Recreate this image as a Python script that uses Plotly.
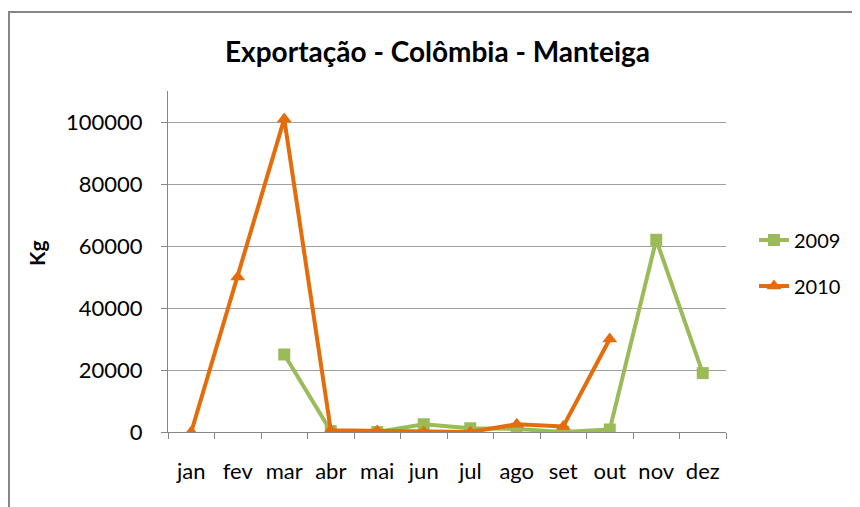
import plotly.graph_objects as go

months = ["jan", "fev", "mar", "abr", "mai", "jun", "jul", "ago", "set", "out", "nov", "dez"]
v2009 = [None, None, 25000, 300, 0, 2500, 1200, 1000, 0, 800, 62000, 19000]
v2010 = [0, 50000, 101000, 600, 300, 0, 0, 2500, 1800, 30000, None, None]
y_ticks = [0, 20000, 40000, 60000, 80000, 100000]

# the page body has an 8px margin; figure coordinates = screen coordinates - 8
OFF = 8
W, H = 852, 499
L, T = 168 - OFF, 91 - OFF
R = W - (726 - OFF)
B = H - (432 - OFF)
pw, ph = W - L - R, H - T - B
FONT = "Lato"

def px_x(s):
    return (s - OFF - L) / pw

def px_y(s):
    return (H - B - (s - OFF)) / ph

fig = go.Figure()
fig.add_trace(go.Scatter(
    x=months, y=v2009, name="2009", mode="lines+markers",
    line=dict(color="#9BBB59", width=4),
    marker=dict(symbol="square", size=12, color="#9BBB59"),
    legendgroup="a", connectgaps=False,
))
fig.add_trace(go.Scatter(
    x=months, y=v2010, name="2010", mode="lines+markers",
    line=dict(color="#E46C0A", width=4),
    marker=dict(symbol="triangle-up", size=13, color="#E46C0A"),
    legendgroup="b", connectgaps=False,
))

fig.update_layout(
    width=W, height=H,
    margin=dict(l=L, r=R, t=T, b=B, autoexpand=False),
    paper_bgcolor="white", plot_bgcolor="white",
    font=dict(family=FONT, color="#000000", size=20),
    title=dict(text="<b>Exportação - Colômbia - Manteiga</b>", xref="container", yref="container",
               x=(437.5 - OFF) / W, y=1 - (52 - OFF) / H, xanchor="center", yanchor="middle",
               font=dict(family=FONT, size=28, color="#000000")),
    showlegend=True,
    legend=dict(x=px_x(754), y=px_y(263), xanchor="left", yanchor="middle",
                font=dict(family=FONT, size=20), traceorder="grouped",
                tracegroupgap=17, bgcolor="rgba(0,0,0,0)"),
    xaxis=dict(type="category", categoryorder="array", categoryarray=months,
               showgrid=False, showline=True, linecolor="#868686", linewidth=1,
               ticks="outside", tickson="boundaries", ticklen=6, tickcolor="#868686",
               ticklabelstandoff=20,
               tickfont=dict(family=FONT, size=22), range=[-0.5, 11.5], fixedrange=True),
    yaxis=dict(range=[0, 110000], tickvals=y_ticks, ticktext=[str(v) for v in y_ticks],
               showgrid=True, gridcolor="#A0A0A0", gridwidth=1,
               showline=True, linecolor="#868686", linewidth=1,
               ticks="outside", ticklen=6, tickcolor="#868686",
               ticklabelstandoff=14, zeroline=False,
               tickfont=dict(family=FONT, size=22)),
    annotations=[dict(text="<b>Kg</b>", xref="paper", yref="paper", x=px_x(36), y=px_y(254),
                      showarrow=False, textangle=-90, xanchor="center", yanchor="middle",
                      font=dict(family=FONT, size=21, color="#000000"))],
    shapes=[dict(type="rect", xref="paper", yref="paper",
                 x0=px_x(9), x1=px_x(920), y0=px_y(580), y1=px_y(12),
                 line=dict(color="#868686", width=2), fillcolor="rgba(0,0,0,0)", layer="below")],
)

fig.write_html("out.html")
